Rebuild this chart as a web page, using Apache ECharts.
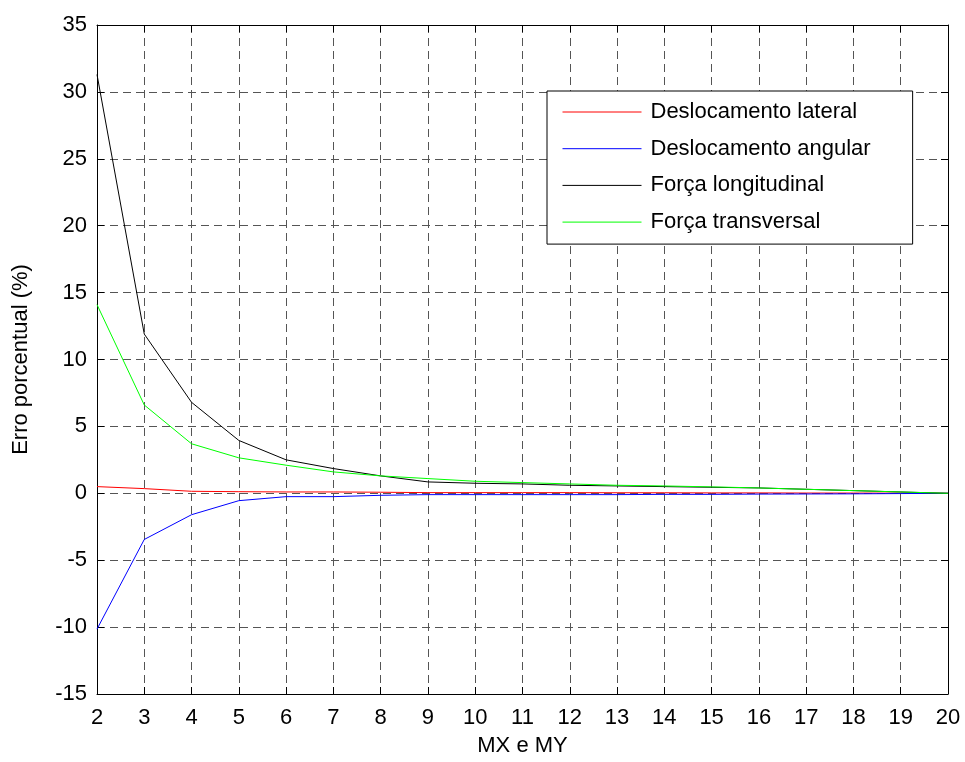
<!DOCTYPE html>
<html>
<head>
<meta charset="utf-8">
<script src="https://cdn.jsdelivr.net/npm/echarts@6/dist/echarts.min.js"></script>
<style>
  html, body { margin: 0; padding: 0; background: #fff; }
  #chart { width: 965px; height: 762px; }
</style>
</head>
<body>
<div id="chart"></div>
<script>
// Mesh refinement (MX = MY) and percentage error of each quantity
const meshSizes = [2, 3, 4, 5, 6, 7, 8, 9, 10, 11, 12, 13, 14, 15, 16, 17, 18, 19, 20];
const deslocamentoLateral = [0.5, 0.35, 0.15, 0.12, 0.1, 0.1, 0.08, 0.05, 0.05, 0.05, 0.05, 0.04, 0.04, 0.03, 0.03, 0.02, 0.02, 0.01, 0];
const deslocamentoAngular = [-10.15, -3.45, -1.6, -0.55, -0.25, -0.25, -0.15, -0.1, -0.1, -0.1, -0.1, -0.1, -0.08, -0.08, -0.06, -0.05, -0.04, -0.02, 0];
const forcaLongitudinal = [31.3, 11.9, 6.8, 3.95, 2.5, 1.85, 1.3, 0.85, 0.75, 0.7, 0.6, 0.55, 0.5, 0.45, 0.4, 0.3, 0.2, 0.1, 0];
const forcaTransversal = [14.1, 6.6, 3.7, 2.65, 2.1, 1.6, 1.3, 1.1, 0.9, 0.8, 0.7, 0.6, 0.55, 0.48, 0.4, 0.3, 0.2, 0.1, 0];

const seriesNames = ['Deslocamento lateral', 'Deslocamento angular', 'Força longitudinal', 'Força transversal'];
const seriesValues = [deslocamentoLateral, deslocamentoAngular, forcaLongitudinal, forcaTransversal];
const seriesColors = ['#ff0000', '#0000ff', '#000000', '#00ff00'];

const FONT = 'Liberation Sans, Arial, sans-serif';
const FS = 22;

const pairs = vals => meshSizes.map((x, i) => [x, vals[i]]);

const gridDash = { color: '#555', width: 1, type: [8, 5] };

const chart = echarts.init(document.getElementById('chart'), null, { renderer: 'canvas' });

chart.setOption({
  animation: false,
  backgroundColor: '#ffffff',
  textStyle: { fontFamily: FONT },
  grid: { left: 97, right: 17, top: 25, bottom: 67, containLabel: false },
  legend: {
    orient: 'vertical',
    left: 547,
    top: 91,
    padding: [10, 42, 11, 15],
    itemWidth: 79,
    itemHeight: 22,
    itemGap: 14.7,
    backgroundColor: '#ffffff',
    borderColor: '#000000',
    borderWidth: 1,
    borderRadius: 0,
    // legend keys are plain line segments, no marker
    itemStyle: { opacity: 0, color: 'transparent', borderWidth: 0 },
    lineStyle: { width: 1, opacity: 1 },
    textStyle: { fontFamily: FONT, fontSize: FS, lineHeight: 22, color: '#000', padding: [0, 0, 0, 4] },
    data: seriesNames
  },
  xAxis: [
    {
      type: 'value', min: 2, max: 20, interval: 1,
      name: 'MX e MY', nameLocation: 'middle', nameGap: 41,
      nameTextStyle: { fontFamily: FONT, fontSize: FS, color: '#000' },
      axisLine: { onZero: false, lineStyle: { color: '#000', width: 1 } },
      axisTick: { inside: true, length: 7, lineStyle: { color: '#000' } },
      axisLabel: { margin: 13, fontFamily: FONT, fontSize: FS, color: '#000' },
      splitLine: { show: true, lineStyle: gridDash }
    },
    {
      type: 'value', min: 2, max: 20, interval: 1, position: 'top',
      axisLine: { onZero: false, lineStyle: { color: '#000', width: 1 } },
      axisTick: { inside: true, length: 7, lineStyle: { color: '#000' } },
      axisLabel: { show: false },
      splitLine: { show: false }
    }
  ],
  yAxis: [
    {
      type: 'value', min: -15, max: 35, interval: 5,
      name: 'Erro porcentual (%)', nameLocation: 'middle', nameGap: 65, nameRotate: 90,
      nameTextStyle: { fontFamily: FONT, fontSize: FS, color: '#000' },
      axisLine: { show: true, onZero: false, lineStyle: { color: '#000', width: 1 } },
      axisTick: { show: true, inside: true, length: 7, lineStyle: { color: '#000' } },
      axisLabel: { margin: 10, fontFamily: FONT, fontSize: FS, color: '#000' },
      splitLine: { show: true, lineStyle: gridDash }
    },
    {
      type: 'value', min: -15, max: 35, interval: 5, position: 'right',
      axisLine: { show: true, onZero: false, lineStyle: { color: '#000', width: 1 } },
      axisTick: { show: true, inside: true, length: 7, lineStyle: { color: '#000' } },
      axisLabel: { show: false },
      splitLine: { show: false }
    }
  ],
  series: seriesNames.map((name, i) => ({
    name,
    type: 'line',
    xAxisIndex: 0,
    yAxisIndex: 0,
    data: pairs(seriesValues[i]),
    symbol: 'none',
    showSymbol: false,
    color: seriesColors[i],
    lineStyle: { color: seriesColors[i], width: 1 },
    emphasis: { disabled: true }
  }))
});
</script>
</body>
</html>
